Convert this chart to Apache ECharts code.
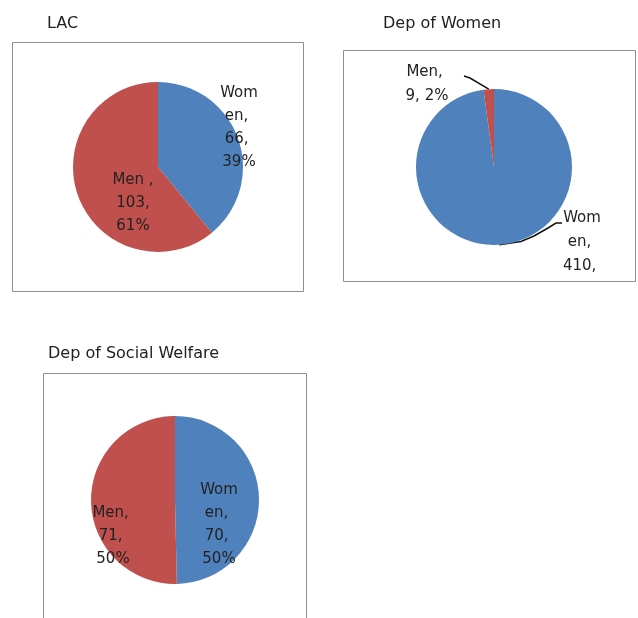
<!DOCTYPE html>
<html><head><meta charset="utf-8">
<script src="https://cdn.jsdelivr.net/npm/echarts@6/dist/echarts.min.js"></script>
<style>html,body{margin:0;padding:0;background:#fff}#wrap{position:relative;width:638px;height:618px}#c{width:638px;height:618px}
#clip{position:absolute;left:338px;top:282px;width:300px;height:40px;background:#fff}</style>
</head><body><div id="wrap"><div id="c"></div><div id="clip"></div></div>
<script>
// ---- data ----
const lacNames = ['Women', 'Men '];
const lacValues = [66, 103];
const depWomenNames = ['Women', 'Men'];
const depWomenValues = [410, 9];
const welfareNames = ['Women', 'Men'];
const welfareValues = [70, 71];
const chartTitles = ['LAC', 'Dep of Women', 'Dep of Social Welfare'];

// ---- styling / layout ----
const sliceColors = ['#4F81BD', '#C0504D'];
const textColor = '#222';
const fontFamily = 'DejaVu Sans';
const frames = [
  { x: 12.5, y: 42.5, w: 291, h: 249 },
  { x: 343.5, y: 50.5, w: 292, h: 231 },
  { x: 43.5, y: 373.5, w: 263, h: 280 }
];
const titlePos = [[47, 16], [383, 16], [48, 346]];
const pieGeom = [
  { center: [158, 167], r: 85 },
  { center: [494, 167], r: 78 },
  { center: [175, 500], r: 84 }
];
const labelLineHeights = [23, 24, 23];
const labelCenters = [
  [[239, 127.5], [133, 203]],
  [[582, 254.5], [427, 84.5]],
  [[219, 524.5], [113, 536]]
];
// leader-line route (after the library-computed anchor on the slice edge)
const leaderRoutes = [null, [[[521, 241.5], [534, 236], [548, 228], [556, 223], [562, 223]], [[470, 78], [464, 76]]], null];

function buildData(names, values) {
  return names.map((n, i) => ({ name: n, value: values[i], itemStyle: { color: sliceColors[i] } }));
}
const datasets = [
  buildData(lacNames, lacValues),
  buildData(depWomenNames, depWomenValues),
  buildData(welfareNames, welfareValues)
];

const series = datasets.map((data, k) => ({
  type: 'pie',
  center: pieGeom[k].center,
  radius: pieGeom[k].r,
  startAngle: 90,
  clockwise: true,
  percentPrecision: 0,
  avoidLabelOverlap: false,
  silent: true,
  animation: false,
  data: data,
  itemStyle: { borderWidth: 0 },
  label: {
    show: true,
    position: k === 1 ? 'outside' : 'inside',
    formatter: '{b}, {c}, {d}%',
    width: 45,
    overflow: 'break',
    fontFamily: fontFamily,
    fontSize: 15,
    lineHeight: labelLineHeights[k],
    color: textColor,
    align: 'center'
  },
  labelLine: {
    show: k === 1,
    showAbove: true,
    smooth: false,
    length: 10,
    length2: 10,
    lineStyle: { color: '#111', width: 1.5 }
  },
  labelLayout: function (p) {
    const c = labelCenters[k][p.dataIndex];
    const res = { x: c[0], y: c[1], align: 'center', verticalAlign: 'middle' };
    if (leaderRoutes[k] && p.labelLinePoints) {
      res.labelLinePoints = [p.labelLinePoints[0]].concat(leaderRoutes[k][p.dataIndex]);
    }
    return res;
  }
}));

const graphics = frames.map(f => ({
  type: 'rect',
  shape: { x: f.x, y: f.y, width: f.w, height: f.h },
  style: { fill: 'none', stroke: '#8e8e8e', lineWidth: 1 }
}));

const chart = echarts.init(document.getElementById('c'), null, { renderer: 'canvas' });
chart.setOption({
  backgroundColor: '#fff',
  animation: false,
  title: chartTitles.map((t, i) => ({
    text: t, left: titlePos[i][0], top: titlePos[i][1], padding: 0,
    textStyle: { fontFamily: fontFamily, fontSize: 16, fontWeight: 'normal', color: textColor }
  })),
  graphic: { elements: graphics },
  series: series
});
</script>
</body></html>
